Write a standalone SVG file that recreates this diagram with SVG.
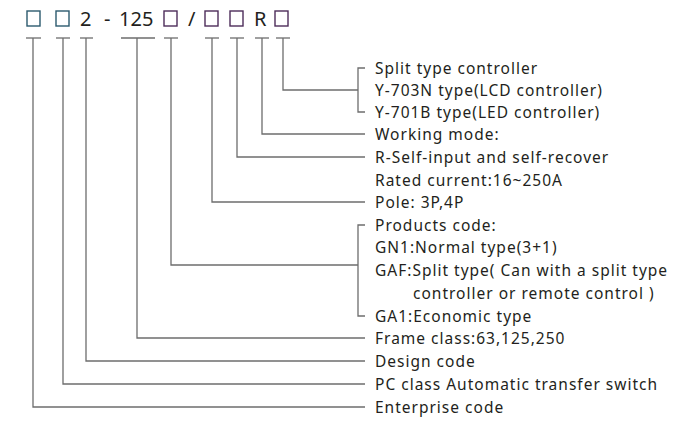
<svg xmlns="http://www.w3.org/2000/svg" width="686" height="438" viewBox="0 0 686 438">
<style>
text{font-family:"Noto Sans","Liberation Sans",sans-serif;font-size:15.5px;fill:#231f20;letter-spacing:1px}
.t{font-size:20px;letter-spacing:0}
.c line,.c polyline{stroke:#6d6d6d;stroke-width:1.3;fill:none}
.bx{fill:none;stroke-width:1.4}
</style>
<rect width="686" height="438" fill="#fff"/>
<g id="code">
<rect class="bx" x="27" y="11" width="13" height="15" stroke="#2c5a6e"/>
<rect class="bx" x="56" y="11" width="13" height="15" stroke="#2c5a6e"/>
<text class="t" x="80" y="26">2</text>
<text class="t" x="104" y="26">-</text>
<text class="t" x="119" y="26">125</text>
<rect class="bx" x="164" y="11" width="13" height="15" stroke="#4d2d5a"/>
<text class="t" x="188" y="26">/</text>
<rect class="bx" x="205" y="11" width="13" height="15" stroke="#4d2d5a"/>
<rect class="bx" x="230" y="11" width="13" height="15" stroke="#4d2d5a"/>
<text class="t" x="254" y="26">R</text>
<rect class="bx" x="275" y="11" width="13" height="15" stroke="#4d2d5a"/>
</g>
<g class="c" id="connectors">
<line x1="26" y1="38" x2="41" y2="38"/><polyline points="33,38 33,407 365,407"/>
<line x1="56" y1="38" x2="70" y2="38"/><polyline points="63,38 63,384 365,384"/>
<line x1="80" y1="38" x2="93" y2="38"/><polyline points="86,38 86,361 365,361"/>
<line x1="121" y1="38" x2="155" y2="38"/><polyline points="137,38 137,338 365,338"/>
<line x1="164" y1="38" x2="178" y2="38"/><polyline points="171,38 171,265 358,265"/>
<polyline points="365,225 358,225 358,316 365,316"/>
<line x1="205" y1="38" x2="219" y2="38"/><polyline points="212,38 212,202 365,202"/>
<line x1="230" y1="38" x2="244" y2="38"/><polyline points="237,38 237,157 365,157"/>
<line x1="255" y1="38" x2="269" y2="38"/><polyline points="262,38 262,134 365,134"/>
<line x1="276" y1="38" x2="290" y2="38"/><polyline points="283,38 283,90 358,90"/>
<polyline points="365,68 358,68 358,112 365,112"/>
</g>
<g id="labels">
<text x="375" y="74">Split type controller</text>
<text x="375" y="96">Y-703N type(LCD controller)</text>
<text x="375" y="118">Y-701B type(LED controller)</text>
<text x="375" y="140">Working mode:</text>
<text x="375" y="163">R-Self-input and self-recover</text>
<text x="375" y="186">Rated current:16~250A</text>
<text x="375" y="208">Pole: 3P,4P</text>
<text x="375" y="231">Products code:</text>
<text x="375" y="253">GN1:Normal type(3+1)</text>
<text x="375" y="276">GAF:Split type( Can with a split type</text>
<text x="413" y="299">controller or remote control )</text>
<text x="375" y="322">GA1:Economic type</text>
<text x="375" y="344">Frame class:63,125,250</text>
<text x="375" y="367">Design code</text>
<text x="375" y="390">PC class Automatic transfer switch</text>
<text x="375" y="413">Enterprise code</text>
</g>
</svg>
